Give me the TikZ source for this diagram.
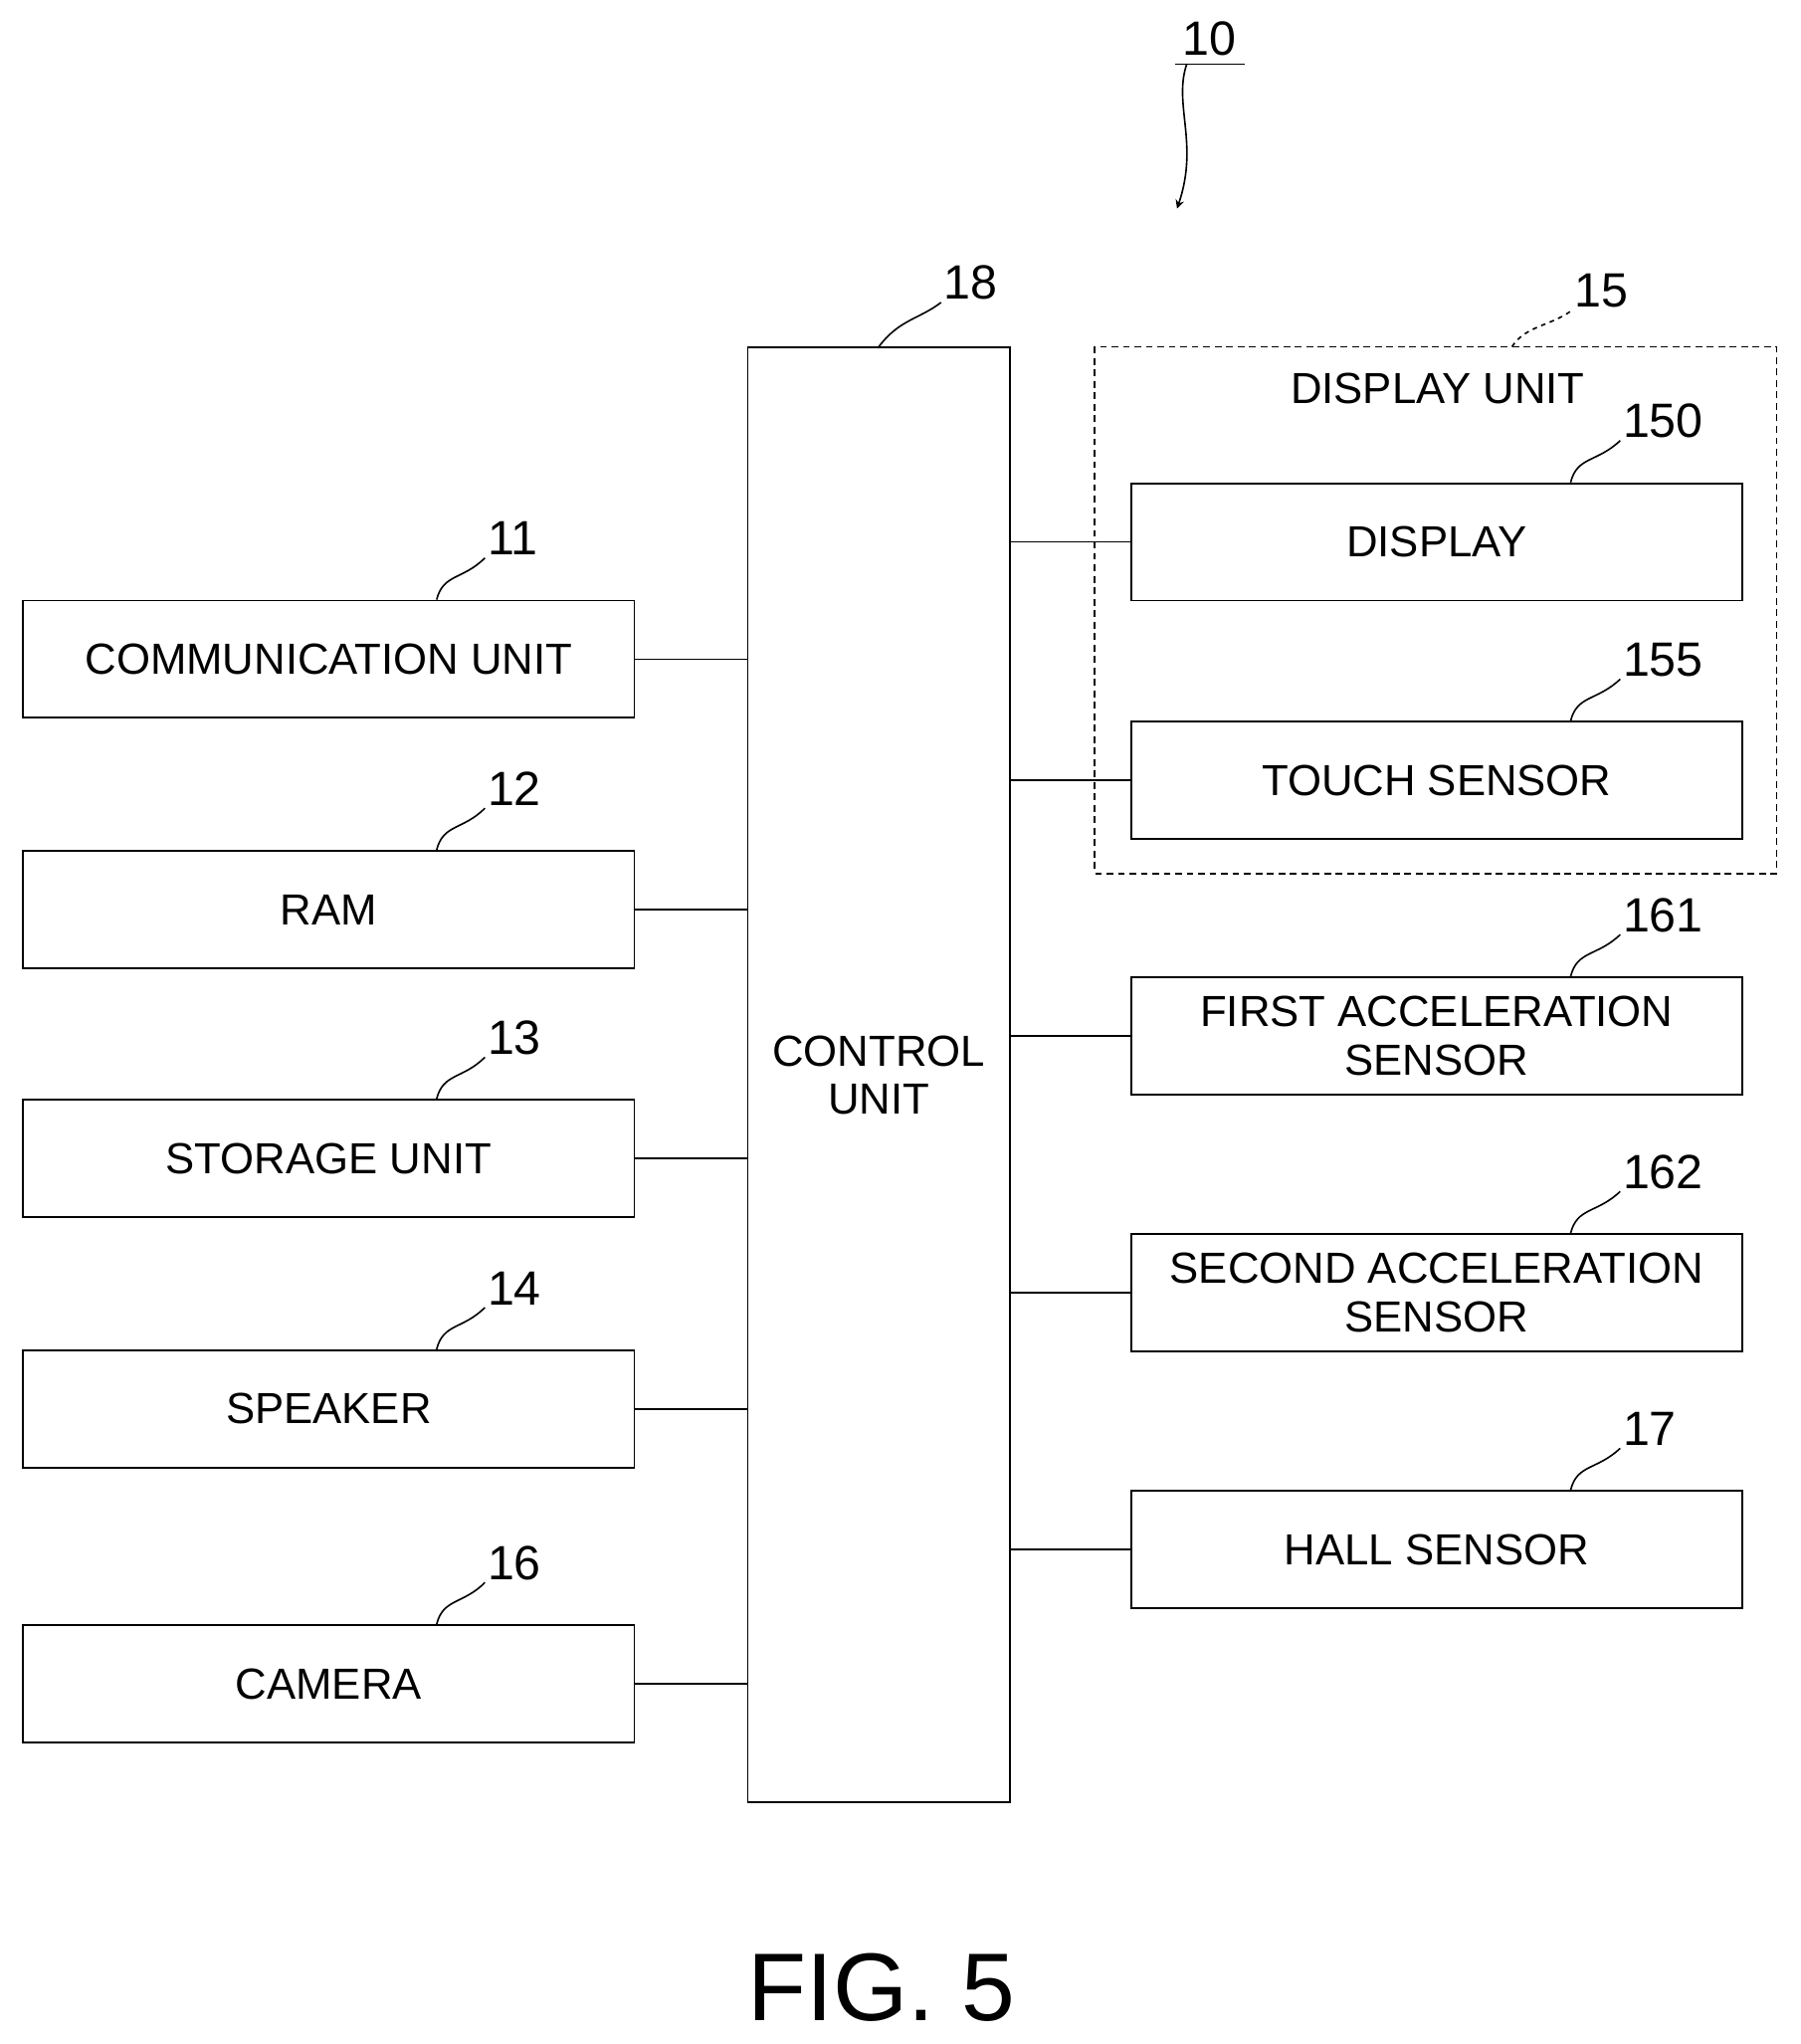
\documentclass[tikz,border=0pt]{standalone}
\usepackage{fontspec}
\setmainfont{Liberation Sans}
\begin{document}
\begin{tikzpicture}[x=0.02cm,y=0.02cm,
 box/.style={draw,line width=0.8pt,inner sep=0pt,anchor=north west,font=\fontsize{19}{21}\selectfont,align=center},
 lab/.style={font=\fontsize{21}{23}\selectfont,anchor=south west,inner sep=1pt},
 con/.style={line width=0.8pt},
 lead/.style={line width=0.7pt}]
\useasboundingbox (0,0) rectangle (1381,-1568);
% control
\node[box,minimum width=201*0.02cm,minimum height=1116*0.02cm] (c) at (573,-266) {CONTROL\\UNIT};
% left
\foreach \n/\y/\t in {11/460/COMMUNICATION UNIT,12/652/RAM,13/843/STORAGE UNIT,14/1035/SPEAKER,16/1246/CAMERA}{
 \node[box,minimum width=469*0.02cm,minimum height=90*0.02cm] (b\n) at (17,-\y) {\t};
 \node[lab] (l\n) at (372,-\y+32) {\n};
 \draw[lead] (335,-\y) .. controls (340,-\y+20) and (355,-\y+15) .. (l\n.south west);
 \draw[con] (b\n.east) -- (b\n.east -| c.west);
}
% dashed unit
\draw[line width=0.8pt,dash pattern=on 3pt off 2pt] (840,-266) rectangle (1363,-670);
\node[font=\fontsize{19}{21}\selectfont] (du) at (1103,-298) {DISPLAY UNIT};
\node[lab] (l15) at (1206,-238) {15};
\draw[lead,dash pattern=on 2pt off 2pt] (1160,-266) .. controls (1170,-250) and (1190,-250) .. (l15.south west);
% right
\foreach \n/\y/\t in {150/370/DISPLAY,155/553/TOUCH SENSOR,161/749/FIRST ACCELERATION\\SENSOR,162/946/SECOND ACCELERATION\\SENSOR,17/1143/HALL SENSOR}{
 \node[box,minimum width=469*0.02cm,minimum height=90*0.02cm] (b\n) at (867,-\y) {\t};
 \node[lab] (l\n) at (1243,-\y+32) {\n};
 \draw[lead] (1205,-\y) .. controls (1210,-\y+20) and (1225,-\y+15) .. (l\n.south west);
 \draw[con] (b\n.west) -- (b\n.west -| c.east);
}
% 18
\node[lab] (l18) at (722,-232) {18};
\draw[lead] (c.north) .. controls (690,-245) and (705,-245) .. (l18.south west);
% 10
\node[font=\fontsize{21}{23}\selectfont] (l10) at (928,-30) {10};
\draw[lead] (l10.south west) -- (l10.south east);
\coordinate (a10) at (903,-160);
\draw[lead,-stealth] ([xshift=-10]l10.south) .. controls (900,-80) and (920,-110) .. (a10);
\node[font=\fontsize{42}{46}\selectfont] (fig) at (676,-1525) {FIG. 5};
\end{tikzpicture}
\end{document}
